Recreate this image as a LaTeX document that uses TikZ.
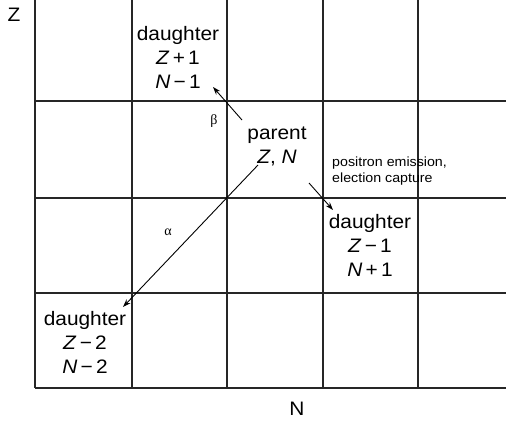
\documentclass[tikz,border=0pt]{standalone}
\usepackage{fontspec}
\setmainfont{Liberation Sans}[FakeStretch=1.07]
\newfontfamily\greekfont{Liberation Serif}
\usetikzlibrary{arrows.meta,calc}
\begin{document}
\begin{tikzpicture}[x=1pt,y=-1pt,
  gridline/.style={line width=1.1pt,black!85},
  big/.style={font=\fontsize{19.5}{24}\selectfont,align=center,inner sep=1pt},
  small/.style={font=\fontsize{13.3}{16.7}\selectfont,align=left,inner sep=0pt},
  greek/.style={font=\greekfont\fontsize{14}{15}\selectfont,inner sep=0pt},
  arr/.style={line width=0.9pt,-{Stealth[length=8pt,width=5.5pt]}}]
\useasboundingbox (0,0) rectangle (506,421);
% grid
\foreach \x in {35,132,227,323,418} \draw[gridline] (\x,0) -- (\x,388);
\foreach \y in {101,198,293,388} \draw[gridline] (35,\y) -- (506,\y);
% axis labels
\node[big] (zax) at (14,15) {Z};
\node[big] (nax) at (297,409) {N};
% nodes
\node[big] (d1) at (178,57) {daughter\\\textit{Z}\,+\,1\\\textit{N}\,−\,1};
\node[big] (par) at (277,146) {parent\\\textit{Z}, \textit{N}};
\node[big] (d2) at (370,245) {daughter\\\textit{Z}\,−\,1\\\textit{N}\,+\,1};
\node[big] (d3) at (85,342) {daughter\\\textit{Z}\,−\,2\\\textit{N}\,−\,2};
\node[greek] (beta) at (214,121) {β};
\node[greek] (alpha) at (168,232) {α};
\node[small,anchor=west] (pos) at (332,171) {positron emission,\\election capture};
% arrows
\draw[arr] ($(par.center)+(-35,-26)$) -- ($(d1.center)+(35,30)$);
\draw[arr] ($(par.center)+(-19,19)$) -- ($(d3.center)+(38,-35)$);
\draw[arr] ($(par.center)+(32,37)$) -- ($(d2.center)+(-37,-35)$);
\end{tikzpicture}
\end{document}
